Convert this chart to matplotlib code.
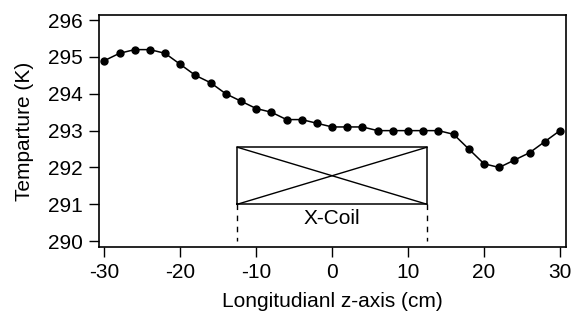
import matplotlib
matplotlib.use("Agg")
import matplotlib.pyplot as plt
import numpy as np

plt.rcParams['font.family'] = ['Liberation Sans', 'DejaVu Sans']

z_cm = [-30, -28, -26, -24, -22, -20, -18, -16, -14, -12, -10, -8, -6, -4, -2,
        0, 2, 4, 6, 8, 10, 12, 14, 16, 18, 20, 22, 24, 26, 28, 30]
temp_K = [294.9, 295.1, 295.2, 295.2, 295.1, 294.8, 294.5, 294.3, 294.0, 293.8,
          293.6, 293.5, 293.3, 293.3, 293.2, 293.1, 293.1, 293.1, 293.0, 293.0,
          293.0, 293.0, 293.0, 292.9, 292.5, 292.1, 292.0, 292.2, 292.4, 292.7, 293.0]
xticks = [-30, -20, -10, 0, 10, 20, 30]
yticks = [290, 291, 292, 293, 294, 295, 296]
coil_z = [-12.5, 12.5]
coil_T = [291.0, 292.55]

fig = plt.figure(figsize=(5.72, 3.16), dpi=100)
ax = fig.add_axes([99/572, 1 - 247/316, (566-99)/572, (247-15)/316])

ax.plot(z_cm, temp_K, color='black', lw=1.1, marker='o', ms=5, zorder=3)

# coil box
x0, x1 = coil_z
y0, y1 = coil_T
ax.plot([x0, x1, x1, x0, x0], [y0, y0, y1, y1, y0], color='black', lw=1.1)
ax.plot([x0, x1], [y0, y1], color='black', lw=1.0)
ax.plot([x0, x1], [y1, y0], color='black', lw=1.0)
ax.plot([x0, x0], [y0, 290.0], color='black', lw=1.0, ls=(0, (4, 4)))
ax.plot([x1, x1], [y0, 290.0], color='black', lw=1.0, ls=(0, (4, 4)))
ax.text(0, 290.62, 'X-Coil', ha='center', va='center', fontsize=15)

ax.set_xlim(-30.7, 30.8)
ax.set_ylim(289.84, 296.14)
ax.set_xticks(xticks)
ax.set_yticks(yticks)
ax.set_xticklabels([str(t) for t in xticks])
ax.set_yticklabels([str(t) for t in yticks])
ax.tick_params(direction='out', length=7.5, width=1.0, labelsize=15, pad=4)
for s in ax.spines.values():
    s.set_linewidth(1.2)
ax.set_xlabel('Longitudianl z-axis (cm)', fontsize=15, labelpad=7)
ax.set_ylabel('Temparture (K)', fontsize=15, labelpad=10)

fig.savefig('out.png', dpi=100)
